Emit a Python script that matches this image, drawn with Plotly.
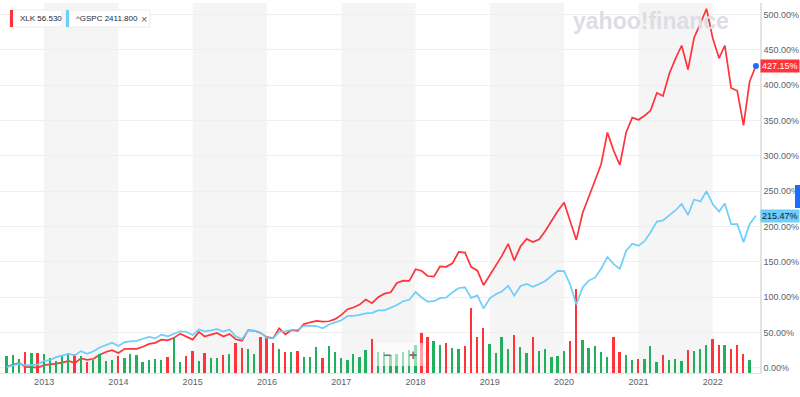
import pandas as pd
import plotly.graph_objects as go

# ---------------- data ----------------
months = pd.date_range("2012-07-01", "2022-08-01", freq="MS")

xlk_pct = [
    2, 4, 7, 1.5, 1.5, 0.5,
    4, 4.5, 6, 7.5, 10, 7, 13.5, 11.5, 13, 18.5, 22.5, 25,
    21, 27, 27.5, 27, 30, 34, 35.5, 40, 39, 42.5, 48.5, 44.5,
    40, 51, 44.5, 47, 49.5, 44.5, 48, 40.5, 38.5, 53.5, 52.5, 49.5,
    43.5, 42, 56, 47.5, 53.5, 52.5, 62, 64.5, 66.5, 65.5, 66, 69,
    75, 83, 85.5, 89.5, 96.6, 91.5, 100, 105, 107, 120, 123.5, 123,
    139.5, 137, 130, 129, 143.5, 143, 148, 164, 163, 143, 137.5, 117,
    131, 146, 158.5, 175.5, 152, 172, 182.5, 178, 182, 194, 209, 222,
    234, 208, 181, 219, 243, 265, 288, 333, 307, 287, 333, 354,
    351, 357, 364, 389, 384.5, 416, 437, 456, 422, 467, 487, 508,
    466, 438, 456, 396, 392, 343, 405, 427.15,
]

gspc_pct = [
    1.26, 3.26, 5.76, 3.67, 3.97, 4.70,
    9.98, 11.20, 15.20, 17.28, 19.72, 17.92, 23.75, 19.88, 23.45, 28.95, 32.57, 35.69,
    30.86, 36.51, 37.45, 38.31, 41.21, 43.91, 41.74, 47.07, 44.79, 48.15, 51.79, 51.15,
    46.46, 54.50, 51.81, 53.10, 54.71, 51.46, 54.45, 44.79, 40.95, 52.65, 52.73, 50.05,
    42.44, 41.85, 51.21, 51.62, 53.95, 54.09, 59.57, 59.38, 59.18, 56.09, 61.42, 64.36,
    67.30, 73.52, 73.46, 75.03, 77.06, 77.91, 81.35, 81.45, 84.95, 89.06, 94.37, 96.28,
    107.30, 99.23, 93.87, 94.40, 98.60, 99.56, 106.75, 113.01, 113.92, 99.08, 102.63, 84.03,
    98.51, 104.42, 108.08, 116.26, 102.04, 115.96, 118.80, 114.84, 118.53, 123.00, 130.59, 137.18,
    136.79, 116.88, 89.74, 113.81, 123.49, 127.60, 140.14, 156.95, 146.88, 140.05, 165.87, 175.74,
    172.67, 179.79, 191.66, 206.95, 208.64, 215.49, 222.67, 232.02, 216.23, 238.10, 235.28, 249.90,
    231.50, 221.10, 232.59, 203.34, 203.35, 177.89, 203.22, 215.47,
]

# monthly XLK volume (millions of shares, estimated) and month direction (1 up, -1 down)
volume = [
    170, 180, 140, 210, 200, 200, 190, 150, 120, 180, 200, 190, 170, 110, 130, 190, 120, 130,
    170, 150, 190, 180, 110, 130, 140, 130, 160, 360, 110, 170, 220, 120, 200, 150, 150, 180,
    190, 300, 250, 240, 190, 360, 360, 300, 240, 210, 210, 220, 160, 160, 260, 150, 270, 210,
    150, 130, 190, 160, 230, 340, 210, 210, 180, 190, 210, 230, 280, 400, 360, 320, 280, 300,
    250, 240, 270, 650, 360, 450, 290, 200, 360, 240, 380, 260, 200, 360, 220, 240, 160, 170,
    220, 320, 840, 330, 250, 270, 210, 160, 360, 210, 180, 130, 140, 140, 270, 110, 180, 130,
    140, 120, 230, 220, 240, 280, 340, 280, 280, 240, 280, 190, 130,
]
vol_dir = [
    1, 1, 1, -1, 1, -1, 1, 1, 1, 1, 1, -1, 1, -1, 1, 1, 1, 1,
    -1, 1, 1, 1, 1, 1, 1, 1, -1, 1, 1, -1, -1, 1, -1, 1, 1, -1,
    1, -1, -1, 1, 1, -1, -1, -1, 1, -1, 1, -1, 1, 1, 1, -1, 1, 1,
    1, 1, 1, 1, 1, -1, 1, 1, 1, 1, 1, 1, 1, -1, -1, 1, 1, -1,
    1, 1, -1, -1, -1, -1, 1, 1, 1, 1, -1, 1, 1, -1, 1, 1, 1, 1,
    1, -1, -1, 1, 1, 1, 1, 1, -1, -1, 1, 1, -1, 1, 1, 1, -1, 1,
    1, 1, -1, 1, 1, 1, -1, -1, 1, -1, -1, -1, 1,
]

shaded_years = [2013, 2015, 2017, 2019, 2021]
legend_xlk = "XLK 56.530"
legend_gspc = "^GSPC 2411.800"

# ---------------- style ----------------
RED = "#ff333a"
BLUE = "#6fcdfa"
GREEN = "#21b15e"
FONT = "Liberation Sans, Arial, sans-serif"
W, H = 800, 397
ML, MR, MT, MB = 0, 40, 3, 24
PW = W - ML - MR
PH = H - MT - MB


def px(p):
    return (p - ML) / PW


def py(p):
    return (H - MB - p) / PH


fig = go.Figure()

fig.add_trace(go.Scatter(x=months, y=xlk_pct, mode="lines",
                         line=dict(color=RED, width=1.7), yaxis="y", hoverinfo="skip"))
fig.add_trace(go.Bar(x=months[:len(volume)], y=volume, yaxis="y2",
                     marker=dict(color=[GREEN if d > 0 else RED for d in vol_dir], line=dict(width=0)),
                     width=9 * 86400000, hoverinfo="skip"))
fig.add_trace(go.Scatter(x=months, y=gspc_pct, mode="lines",
                         line=dict(color=BLUE, width=1.7), yaxis="y3", hoverinfo="skip"))
fig.add_trace(go.Scatter(x=[months[-1]], y=[xlk_pct[-1]], mode="markers",
                         marker=dict(color="#1e6cff", size=6), yaxis="y3", hoverinfo="skip"))

shapes = []
for yr in shaded_years:
    shapes.append(dict(type="rect", xref="x", yref="paper",
                       x0=f"{yr}-01-01", x1=f"{yr + 1}-01-01", y0=0, y1=1,
                       fillcolor="#f5f5f5", line=dict(width=0), layer="below"))

# legend chips
shapes += [
    dict(type="rect", xref="paper", yref="paper", x0=px(10), x1=px(62), y0=py(27), y1=py(10),
         fillcolor="white", line=dict(color="#ececec", width=1)),
    dict(type="rect", xref="paper", yref="paper", x0=px(10), x1=px(13), y0=py(27), y1=py(10),
         fillcolor=RED, line=dict(width=0)),
    dict(type="rect", xref="paper", yref="paper", x0=px(66), x1=px(150), y0=py(27), y1=py(10),
         fillcolor="white", line=dict(color="#ececec", width=1)),
    dict(type="rect", xref="paper", yref="paper", x0=px(66), x1=px(69), y0=py(27), y1=py(10),
         fillcolor=BLUE, line=dict(width=0)),
    # zoom control overlay
    dict(type="rect", xref="paper", yref="paper", x0=px(376), x1=px(426), y0=py(366), y1=py(343),
         fillcolor="rgba(255,255,255,0.55)", line=dict(width=0)),
    # right edge handle
    dict(type="rect", xref="paper", yref="paper", x0=px(795), x1=px(801), y0=py(208), y1=py(185),
         fillcolor="#1e6cff", line=dict(width=0)),
]


def note(x, y, text, size, color, xanchor="center", **kw):
    return dict(xref="paper", yref="paper", x=px(x), y=py(y), text=text, showarrow=False,
                xanchor=xanchor, yanchor="middle", font=dict(family=FONT, size=size, color=color), **kw)


annotations = [
    note(651, 21, "<b>yahoo!finance</b>", 23, "#dcdee3"),
    note(18, 18.5, legend_xlk, 8, "#232a31", xanchor="left"),
    note(73.5, 18.5, legend_gspc, 8, "#232a31", xanchor="left"),
    note(143.5, 18.5, "×", 11, "#5b636a"),
    note(387, 355, "<b>−</b>", 14, "#6e7379"),
    note(413, 355, "<b>+</b>", 14, "#6e7379"),
    dict(xref="paper", yref="y", x=1, y=xlk_pct[-1], xanchor="left", yanchor="middle",
         text=f"{xlk_pct[-1]:.2f}%", showarrow=False, bgcolor=RED, borderpad=1,
         font=dict(family=FONT, size=9, color="white")),
    dict(xref="paper", yref="y", x=1, y=gspc_pct[-1], xanchor="left", yanchor="middle",
         text=f"{gspc_pct[-1]:.2f}%", showarrow=False, bgcolor=BLUE, borderpad=1,
         font=dict(family=FONT, size=9, color="#0e1c2b")),
]

yrange = [-7.2, 516.1]
fig.update_layout(
    width=W, height=H,
    margin=dict(l=ML, r=MR, t=MT, b=MB),
    paper_bgcolor="white", plot_bgcolor="white",
    showlegend=False, bargap=0, hovermode=False,
    font=dict(family=FONT, size=9, color="#5b636a"),
    xaxis=dict(type="date", range=["2012-05-29", "2022-08-21"], showgrid=False,
               tickformat="%Y", dtick="M12", tick0="2013-01-01", ticks="",
               showline=True, linecolor="#e3e3e3", linewidth=1,
               tickfont=dict(family=FONT, size=9, color="#5b636a"), zeroline=False),
    yaxis=dict(side="right", range=yrange, dtick=50, tick0=0, tickformat=".2f", ticksuffix="%",
               showgrid=True, gridcolor="#efefef", gridwidth=1, zeroline=False,
               showline=True, linecolor="#e3e3e3", linewidth=1.5,
               ticks="", automargin=False,
               tickfont=dict(family=FONT, size=9, color="#5b636a")),
    yaxis2=dict(overlaying="y", range=[0, 3700], visible=False),
    yaxis3=dict(overlaying="y", range=yrange, visible=False),
    shapes=shapes,
    annotations=annotations,
)

fig.write_html("out.html", config={"displayModeBar": False},
               post_script="document.body.style.margin='0';document.body.style.overflow='hidden';")
